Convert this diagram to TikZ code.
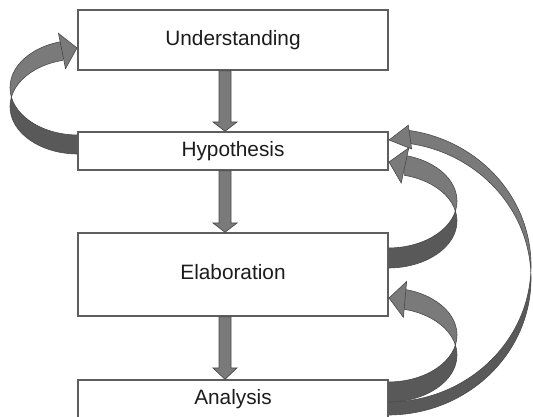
\documentclass[tikz,border=0pt]{standalone}
\usepackage{fontspec}
\setmainfont{Liberation Sans}
\usetikzlibrary{calc}

\definecolor{boxline}{HTML}{5E5E5E}
\definecolor{facelight}{HTML}{7A7A7A}
\definecolor{facedark}{HTML}{595959}
\definecolor{edgeline}{HTML}{4A4A4A}
\definecolor{ink}{HTML}{1C1C1C}

\tikzset{
  stage/.style={draw=boxline, line width=1.5pt, fill=white, minimum width=310pt,
    inner sep=0pt, outer sep=0pt, text=ink, font=\fontsize{20.8}{24}\selectfont,
    text height=14.9pt, text depth=4pt},
  fatarrow/.style={fill=facelight, draw=edgeline, line width=0.7pt, line join=miter},
  ribbontop/.style={fill=facelight, draw=edgeline, line width=0.6pt},
  ribbonunder/.style={fill=facedark, draw=edgeline, line width=0.6pt},
}

% Straight block arrow from the bottom of one stage to the top of the next.
% #1 source node, #2 target node, #3 head length
\newcommand\stagearrow[3]{%
  \filldraw[fatarrow] ($(#1.south)+(-14,-0.75)$) -- ($(#1.south)+(-2,-0.75)$)
    -- ($(#2.north)+(-2,#3)$) -- ($(#2.north)+(4,#3)$) -- ($(#2.north)+(-8,0.75)$)
    -- ($(#2.north)+(-20,#3)$) -- ($(#2.north)+(-14,#3)$) -- cycle;}

% Twisted ribbon of a curved block arrow: two equal ellipses, the second
% shifted down by the band thickness. Upper band = front face, lower = back face.
% #1,#2 centre, #3 xscale (+1 right, -1 left), #4 x radius, #5 y radius,
% #6 thickness, #7 where the arrow head starts
\newcommand\pptribbon[7]{%
  \begin{scope}[shift={(#1,#2)}, xscale=#3]
    \begin{scope}
      \clip (#7-1,-#6/2) rectangle (#4+3,#5+3);
      \filldraw[ribbontop, even odd rule] (0,0) ellipse [x radius=#4, y radius=#5]
        (0,-#6) ellipse [x radius=#4, y radius=#5];
    \end{scope}
    \begin{scope}
      \clip (0.75,-#6/2) rectangle (#4+3,-#6-#5-3);
      \filldraw[ribbonunder, even odd rule] (0,0) ellipse [x radius=#4, y radius=#5]
        (0,-#6) ellipse [x radius=#4, y radius=#5];
    \end{scope}
  \end{scope}}

% Arrow head: #1 centre of its back, #2 tip, #3 half width
\newcommand\ribbonhead[3]{%
  \filldraw[ribbontop, line join=miter] (#2) -- ($(#1)!#3!90:(#2)$)
    -- ($(#1)!#3!-90:(#2)$) -- cycle;}

\begin{document}
\begin{tikzpicture}[x=1pt, y=1pt]
  \useasboundingbox (0,0) rectangle (533,417);

  % stages
  \node[stage, minimum height=60pt]   (und) at (233,377)   {Understanding};
  \node[stage, minimum height=38pt]   (hyp) at (233,266)   {Hypothesis};
  \node[stage, minimum height=83pt]   (ela) at (233,142.5) {Elaboration};
  \node[stage, minimum height=39pt]   (ana) at (233,17.5)  {Analysis};

  % forward flow
  \stagearrow{und}{hyp}{10}
  \stagearrow{hyp}{ela}{10}
  \stagearrow{ela}{ana}{12}

  % feedback loops
  \coordinate (r3base) at (410,279.9);
  \coordinate (r3tip)  at ($(hyp.east)+(1,11)$);
  \coordinate (r1base) at (405,251.55);
  \coordinate (r1tip)  at ($(hyp.east)+(1,-11)$);
  \coordinate (r2base) at (405,117.55);
  \coordinate (r2tip)  at ($(ela.east)+(1,-23.5)$);
  \coordinate (l1base) at (62,366);
  \coordinate (l1tip)  at ($(und.west)+(-1,-8)$);

  % Analysis -> Hypothesis
  \pptribbon{388}{151.5}{1}{143}{136.5}{13}{22}
  \ribbonhead{r3base}{r3tip}{12pt}
  % Elaboration -> Hypothesis
  \pptribbon{388}{216}{1}{69}{47}{20}{17}
  \ribbonhead{r1base}{r1tip}{18pt}
  % Analysis -> Elaboration
  \pptribbon{388}{82}{1}{69}{47}{20}{17}
  \ribbonhead{r2base}{r2tip}{18pt}
  % Hypothesis -> Understanding
  \pptribbon{78}{329.4}{-1}{68}{47.4}{19}{16}
  \ribbonhead{l1base}{l1tip}{18pt}
\end{tikzpicture}
\end{document}
